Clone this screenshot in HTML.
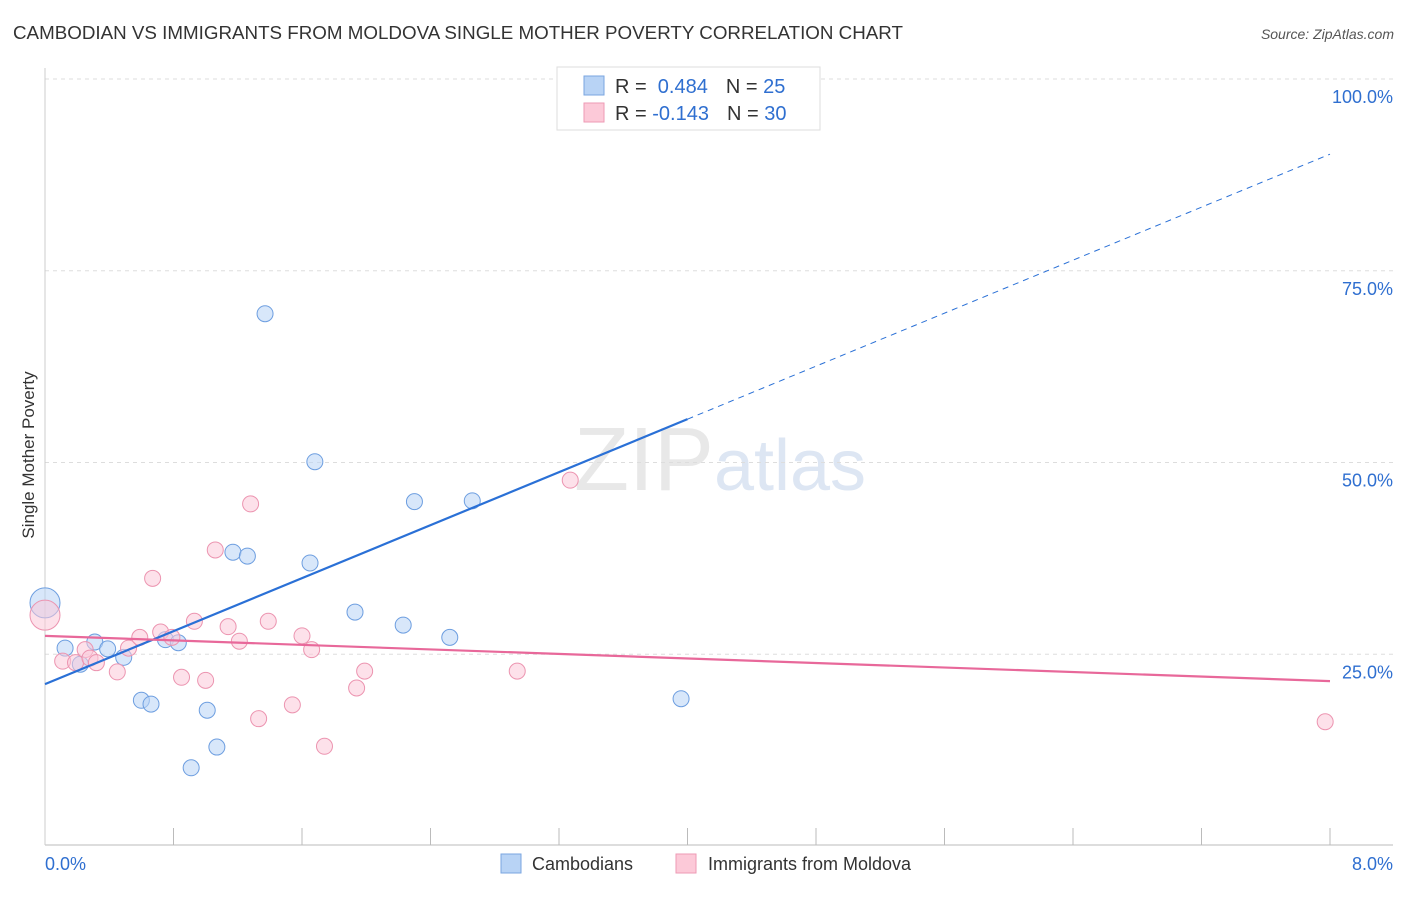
<!DOCTYPE html>
<html><head><meta charset="utf-8"><style>
body{margin:0;background:#fff;font-family:"Liberation Sans",sans-serif}
svg text{font-family:"Liberation Sans",sans-serif}
</style></head><body>
<svg id="c" width="1406" height="892">
<text x="13" y="39" font-size="18" fill="#333" textLength="890" lengthAdjust="spacingAndGlyphs">CAMBODIAN VS IMMIGRANTS FROM MOLDOVA SINGLE MOTHER POVERTY CORRELATION CHART</text>
<text x="1394" y="39" font-size="14" fill="#555" font-style="italic" text-anchor="end">Source: ZipAtlas.com</text>
<text x="720" y="490" font-size="90" fill="#e8e8e8" text-anchor="middle" font-family="Liberation Serif">ZIP<tspan fill="#dde6f3" font-family="Liberation Sans" font-size="72">atlas</tspan></text>
<text transform="translate(34,455) rotate(-90)" font-size="17" fill="#333" text-anchor="middle">Single Mother Poverty</text>
<g id="grid"></g><g id="marks"></g>
<g>
<rect x="557" y="67" width="263" height="63" fill="#fff" stroke="#ddd"/>
<rect x="584" y="76" width="20" height="19" fill="#b8d3f5" stroke="#7aa6e0"/>
<rect x="584" y="103" width="20" height="19" fill="#fcc9d8" stroke="#ee9ab4"/>
<text x="615" y="93" font-size="20" fill="#333">R = <tspan fill="#2f6fd0">&#160;0.484</tspan><tspan dx="18" fill="#333">N = </tspan><tspan fill="#2f6fd0"> 25</tspan></text>
<text x="615" y="120" font-size="20" fill="#333">R = <tspan fill="#2f6fd0">-0.143</tspan><tspan dx="18" fill="#333">N = </tspan><tspan fill="#2f6fd0"> 30</tspan></text>
</g>
<g>
<rect x="501" y="854" width="20" height="19" fill="#b8d3f5" stroke="#7aa6e0"/>
<text x="532" y="870" font-size="18" fill="#333">Cambodians</text>
<rect x="676" y="854" width="20" height="19" fill="#fcc9d8" stroke="#ee9ab4"/>
<text x="708" y="870" font-size="18" fill="#333">Immigrants from Moldova</text>
</g>
<text x="45" y="870" font-size="18" fill="#2f6fd0">0.0%</text>
<text x="1393" y="870" font-size="18" fill="#2f6fd0" text-anchor="end">8.0%</text>
</svg>
<script>
const yTicks=[25,50,75,100];
const yTickLabels=["25.0%","50.0%","75.0%","100.0%"];
const blueX=[0,0.125,0.22,0.31,0.39,0.49,0.6,0.66,0.75,0.83,0.91,1.01,1.07,1.17,1.26,1.37,1.65,1.68,1.93,2.23,2.30,2.52,2.66,3.72,3.96];
const blueY=[31.7,25.8,23.7,26.6,25.7,24.6,19.0,18.5,26.9,26.5,10.2,17.7,12.9,38.3,37.8,69.4,36.9,50.1,30.5,28.8,44.9,27.2,45.0,100,19.2];
const pinkX=[0,0.11,0.19,0.25,0.28,0.32,0.45,0.52,0.59,0.67,0.72,0.79,0.85,0.93,1.0,1.06,1.14,1.21,1.28,1.33,1.39,1.54,1.6,1.66,1.74,1.94,1.99,2.94,3.27,7.97];
const pinkY=[30.1,24.1,23.9,25.6,24.5,23.9,22.7,25.8,27.2,34.9,27.9,27.2,22.0,29.3,21.6,38.6,28.6,26.7,44.6,16.6,29.3,18.4,27.4,25.6,13.0,20.6,22.8,22.8,47.7,16.2];
const blueTrend=[21.1,90.2];
const pinkTrend=[27.4,21.5];
const sx=v=>45+v/8*1285, sy=v=>846-v*7.67;
const NS='http://www.w3.org/2000/svg';
function mk(t,a,p){const e=document.createElementNS(NS,t);for(const k in a)e.setAttribute(k,a[k]);p.appendChild(e);return e;}
const g=document.getElementById('grid'),m=document.getElementById('marks');
yTicks.forEach((t,i)=>{const l=mk('line',{x1:45,x2:1393,y1:sy(t),y2:sy(t),stroke:'#ddd','stroke-dasharray':'4,4'},g);


const tx=mk('text',{x:1393,y:sy(t)+24,'font-size':18,fill:'#2f6fd0','text-anchor':'end'},g);tx.textContent=yTickLabels[i];

});
mk('line',{x1:45,x2:1393,y1:845,y2:845,stroke:'#bbb'},g);
mk('line',{x1:45,x2:45,y1:68,y2:845,stroke:'#ccc'},g);
for(let i=1;i<=10;i++){mk('line',{x1:sx(i*0.8),x2:sx(i*0.8),y1:828,y2:845,stroke:'#bbb'},g);}
function dots(X,Y,fill,stroke,name){X.forEach((x,i)=>{const c=mk('circle',{cx:sx(x),cy:sy(Y[i]),r:i==0&&x==0?15:8,fill:fill,'fill-opacity':0.55,stroke:stroke,'stroke-width':1},m);

});}
dots(blueX,blueY,'#b8d3f5','#6d9ee0','cambodian-point');
dots(pinkX,pinkY,'#fcc9d8','#ec94b0','moldova-point');
const bm=4.0, bmy=blueTrend[0]+(blueTrend[1]-blueTrend[0])*bm/8;
let l1=mk('line',{x1:sx(0),y1:sy(blueTrend[0]),x2:sx(bm),y2:sy(bmy),stroke:'#2a70d6','stroke-width':2.2},m);


let l2=mk('line',{x1:sx(bm),y1:sy(bmy),x2:sx(8),y2:sy(blueTrend[1]),stroke:'#2a70d6','stroke-width':1,'stroke-dasharray':'6,5'},m);


let l3=mk('line',{x1:sx(0),y1:sy(pinkTrend[0]),x2:sx(8),y2:sy(pinkTrend[1]),stroke:'#e8689a','stroke-width':2.2},m);


</script>
</body></html>
